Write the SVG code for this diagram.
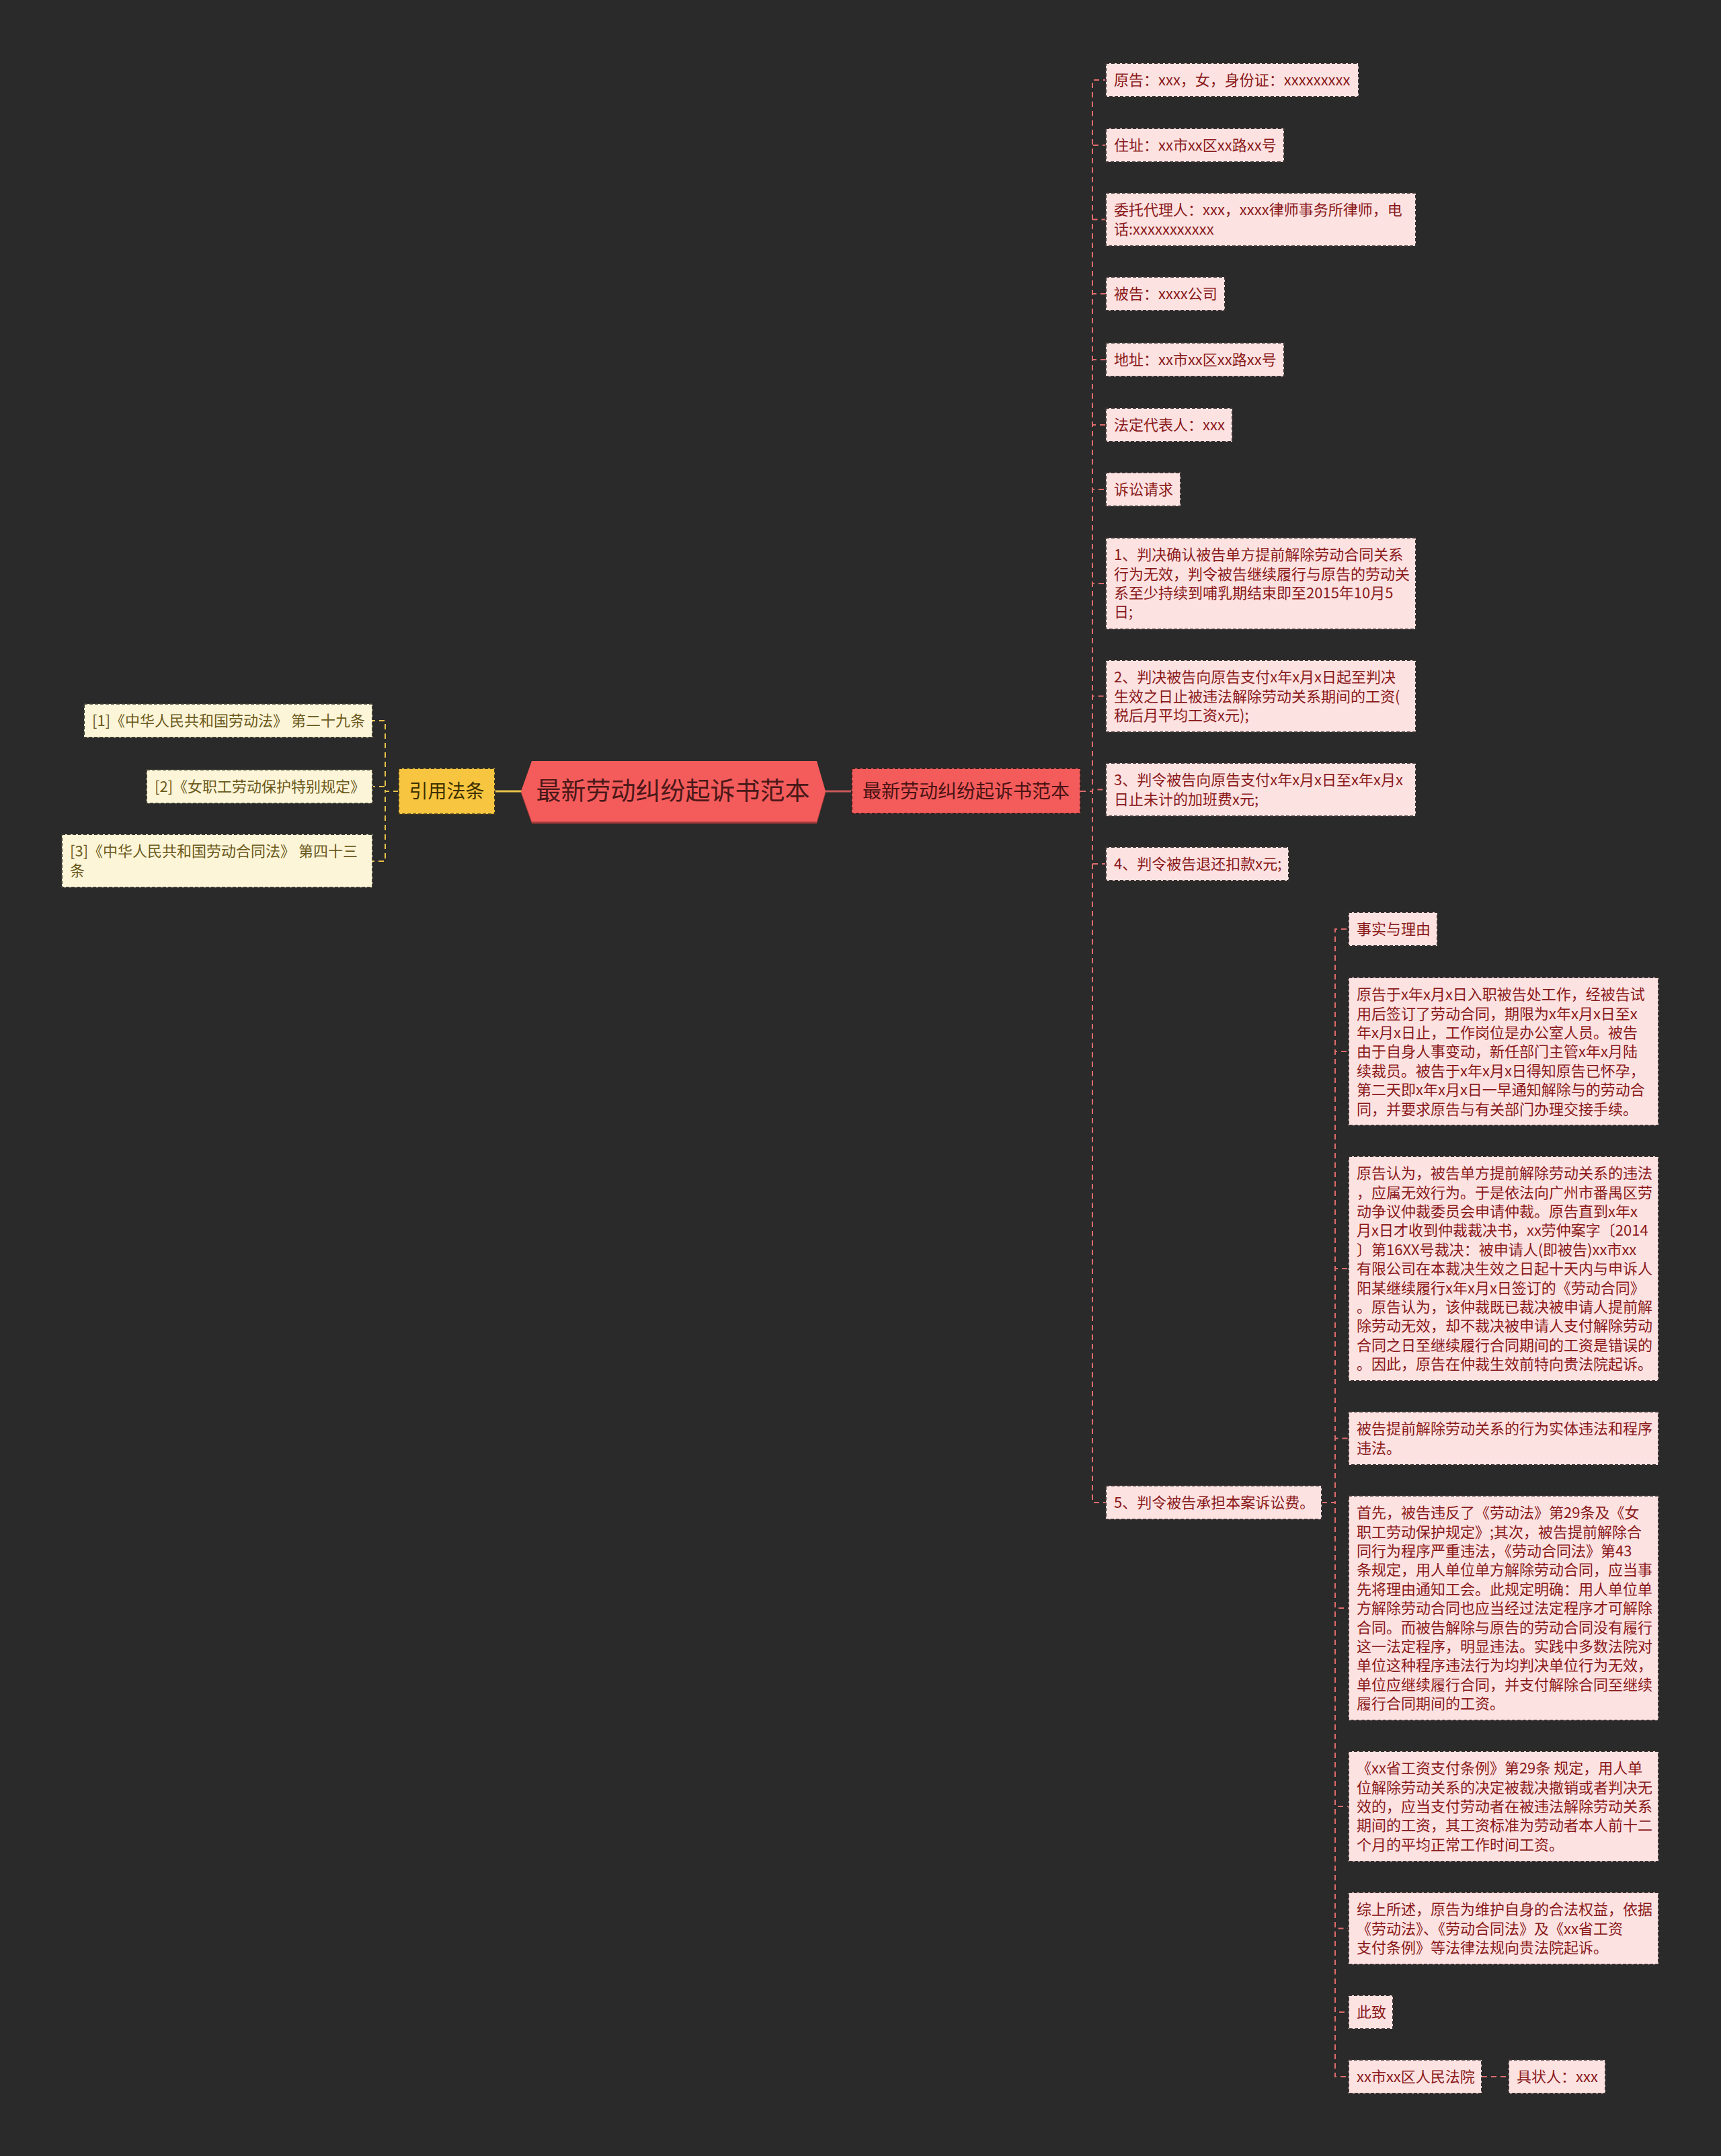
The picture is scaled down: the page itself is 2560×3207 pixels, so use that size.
<svg xmlns="http://www.w3.org/2000/svg" width="2560" height="3207" viewBox="0 0 2560 3207">
<style>
text{font-family:"Noto Sans CJK SC","Noto Sans",sans-serif;white-space:pre}
.bg{fill:#2a2a2a}
.pk rect{fill:#fde2e2;stroke:#3a3030;stroke-width:2;stroke-dasharray:5 3}
.pk text{fill:#8a1a1a;font-size:22px}
.cm rect{fill:#fdf5d8;stroke:#3a3a30;stroke-width:2;stroke-dasharray:5 3}
.cm text{fill:#6b5a1c;font-size:22px}
.cr{fill:none;stroke:#e06c6c;stroke-width:2;stroke-dasharray:8 6}
.cy{fill:none;stroke:#e8c24a;stroke-width:2;stroke-dasharray:8 6}
</style>
<rect class="bg" x="0" y="0" width="2560" height="3207"/>
<g id="connectors">
<line x1="736" y1="1177" x2="777" y2="1177" stroke="#e8c24a" stroke-width="3"/>
<line x1="1227" y1="1177" x2="1267" y2="1177" stroke="#c85858" stroke-width="3"/>
<path class="cy" d="M593,1177H573V1072H554"/>
<path class="cy" d="M593,1177H573V1170H554"/>
<path class="cy" d="M593,1177H573V1281H554"/>
<path class="cr" d="M1607,1177H1625V119H1645"/>
<path class="cr" d="M1607,1177H1625V216H1645"/>
<path class="cr" d="M1607,1177H1625V326.5H1645"/>
<path class="cr" d="M1607,1177H1625V437H1645"/>
<path class="cr" d="M1607,1177H1625V535H1645"/>
<path class="cr" d="M1607,1177H1625V632H1645"/>
<path class="cr" d="M1607,1177H1625V728H1645"/>
<path class="cr" d="M1607,1177H1625V868H1645"/>
<path class="cr" d="M1607,1177H1625V1035.5H1645"/>
<path class="cr" d="M1607,1177H1625V1174.5H1645"/>
<path class="cr" d="M1607,1177H1625V1285H1645"/>
<path class="cr" d="M1607,1177H1625V2235H1645"/>
<path class="cr" d="M1966,2235H1986V1382H2006"/>
<path class="cr" d="M1966,2235H1986V1564H2006"/>
<path class="cr" d="M1966,2235H1986V1887H2006"/>
<path class="cr" d="M1966,2235H1986V2139.5H2006"/>
<path class="cr" d="M1966,2235H1986V2392H2006"/>
<path class="cr" d="M1966,2235H1986V2687H2006"/>
<path class="cr" d="M1966,2235H1986V2868.5H2006"/>
<path class="cr" d="M1966,2235H1986V2993H2006"/>
<path class="cr" d="M1966,2235H1986V3089H2006"/>
<path class="cr" d="M2204,3089H2244"/>
</g>
<g id="root">
<polygon points="775,1180 791,1135 1215,1135 1228,1180 1215,1225 791,1225" fill="#a83c3c"/>
<polygon points="775,1177 791,1132 1215,1132 1228,1177 1215,1222 791,1222" fill="#f45b5b"/>
<text x="1001" y="1190" font-size="37" fill="#4a1818" text-anchor="middle">最新劳动纠纷起诉书范本</text>
</g>
<g id="cite">
<rect x="593" y="1143" width="143" height="68" fill="#f7c53f" stroke="#3a3420" stroke-width="2" stroke-dasharray="5 3"/>
<text x="664.5" y="1187" font-size="28" fill="#3d3000" text-anchor="middle">引用法条</text>
</g>
<g id="cite1" class="cm"><rect x="125" y="1047" width="429" height="50"/><text x="137" y="1080.2">[1]《中华人民共和国劳动法》 第二十九条</text></g>
<g id="cite2" class="cm"><rect x="218" y="1145" width="336" height="50"/><text x="230" y="1178.2">[2]《女职工劳动保护特别规定》</text></g>
<g id="cite3" class="cm"><rect x="92" y="1241" width="462" height="79"/><text x="104" y="1274.2">[3]《中华人民共和国劳动合同法》 第四十三</text><text x="104" y="1302.6">条</text></g>
<g id="main">
<rect x="1267" y="1143" width="340" height="67" fill="#f45b5b" stroke="#3a2020" stroke-width="2" stroke-dasharray="5 3"/>
<text x="1437" y="1187" font-size="28" fill="#4a1414" text-anchor="middle">最新劳动纠纷起诉书范本</text>
</g>
<g id="n1" class="pk"><rect x="1645" y="94" width="376" height="50"/><text x="1657" y="127.2">原告：xxx，女，身份证：xxxxxxxxx</text></g>
<g id="n2" class="pk"><rect x="1645" y="191" width="265" height="50"/><text x="1657" y="224.2">住址：xx市xx区xx路xx号</text></g>
<g id="n3" class="pk"><rect x="1645" y="287" width="461" height="79"/><text x="1657" y="320.2">委托代理人：xxx，xxxx律师事务所律师，电</text><text x="1657" y="348.6">话:xxxxxxxxxxx</text></g>
<g id="n4" class="pk"><rect x="1645" y="412" width="177" height="50"/><text x="1657" y="445.2">被告：xxxx公司</text></g>
<g id="n5" class="pk"><rect x="1645" y="510" width="265" height="50"/><text x="1657" y="543.2">地址：xx市xx区xx路xx号</text></g>
<g id="n6" class="pk"><rect x="1645" y="607" width="188" height="50"/><text x="1657" y="640.2">法定代表人：xxx</text></g>
<g id="n7" class="pk"><rect x="1645" y="703" width="111" height="50"/><text x="1657" y="736.2">诉讼请求</text></g>
<g id="n8" class="pk"><rect x="1645" y="800" width="461" height="136"/><text x="1657" y="833.2">1、判决确认被告单方提前解除劳动合同关系</text><text x="1657" y="861.6">行为无效，判令被告继续履行与原告的劳动关</text><text x="1657" y="890">系至少持续到哺乳期结束即至2015年10月5</text><text x="1657" y="918.4">日;</text></g>
<g id="n9" class="pk"><rect x="1645" y="982" width="461" height="107"/><text x="1657" y="1015.2">2、判决被告向原告支付x年x月x日起至判决</text><text x="1657" y="1043.6">生效之日止被违法解除劳动关系期间的工资(</text><text x="1657" y="1072">税后月平均工资x元);</text></g>
<g id="n10" class="pk"><rect x="1645" y="1135" width="461" height="79"/><text x="1657" y="1168.2">3、判令被告向原告支付x年x月x日至x年x月x</text><text x="1657" y="1196.6">日止未计的加班费x元;</text></g>
<g id="n11" class="pk"><rect x="1645" y="1260" width="272" height="50"/><text x="1657" y="1293.2">4、判令被告退还扣款x元;</text></g>
<g id="n12" class="pk"><rect x="1645" y="2210" width="321" height="50"/><text x="1657" y="2243.2">5、判令被告承担本案诉讼费。</text></g>
<g id="m1" class="pk"><rect x="2006" y="1357" width="132" height="50"/><text x="2018" y="1390.2">事实与理由</text></g>
<g id="m2" class="pk"><rect x="2006" y="1454" width="461" height="220"/>
<text x="2018" y="1487.2">原告于x年x月x日入职被告处工作，经被告试</text>
<text x="2018" y="1515.6">用后签订了劳动合同，期限为x年x月x日至x</text>
<text x="2018" y="1544">年x月x日止，工作岗位是办公室人员。被告</text>
<text x="2018" y="1572.4">由于自身人事变动，新任部门主管x年x月陆</text>
<text x="2018" y="1600.8">续裁员。被告于x年x月x日得知原告已怀孕，</text>
<text x="2018" y="1629.2">第二天即x年x月x日一早通知解除与的劳动合</text>
<text x="2018" y="1657.6">同，并要求原告与有关部门办理交接手续。</text></g>
<g id="m3" class="pk"><rect x="2006" y="1720" width="461" height="334"/>
<text x="2018" y="1753.2">原告认为，被告单方提前解除劳动关系的违法</text>
<text x="2018" y="1781.6">，应属无效行为。于是依法向广州市番禺区劳</text>
<text x="2018" y="1810">动争议仲裁委员会申请仲裁。原告直到x年x</text>
<text x="2018" y="1838.4">月x日才收到仲裁裁决书，xx劳仲案字〔2014</text>
<text x="2018" y="1866.8">〕第16XX号裁决：被申请人(即被告)xx市xx</text>
<text x="2018" y="1895.2">有限公司在本裁决生效之日起十天内与申诉人</text>
<text x="2018" y="1923.6">阳某继续履行x年x月x日签订的《劳动合同》</text>
<text x="2018" y="1952">。原告认为，该仲裁既已裁决被申请人提前解</text>
<text x="2018" y="1980.4">除劳动无效，却不裁决被申请人支付解除劳动</text>
<text x="2018" y="2008.8">合同之日至继续履行合同期间的工资是错误的</text>
<text x="2018" y="2037.2">。因此，原告在仲裁生效前特向贵法院起诉。</text></g>
<g id="m4" class="pk"><rect x="2006" y="2100" width="461" height="79"/><text x="2018" y="2133.2">被告提前解除劳动关系的行为实体违法和程序</text><text x="2018" y="2161.6">违法。</text></g>
<g id="m5" class="pk"><rect x="2006" y="2225" width="461" height="334"/>
<text x="2018" y="2258.2">首先，被告违反了《劳动法》第29条及《女</text>
<text x="2018" y="2286.6">职工劳动保护规定》;其次，被告提前解除合</text>
<text x="2018" y="2315">同行为程序严重违法，《劳动合同法》第43</text>
<text x="2018" y="2343.4">条规定，用人单位单方解除劳动合同，应当事</text>
<text x="2018" y="2371.8">先将理由通知工会。此规定明确：用人单位单</text>
<text x="2018" y="2400.2">方解除劳动合同也应当经过法定程序才可解除</text>
<text x="2018" y="2428.6">合同。而被告解除与原告的劳动合同没有履行</text>
<text x="2018" y="2457">这一法定程序，明显违法。实践中多数法院对</text>
<text x="2018" y="2485.4">单位这种程序违法行为均判决单位行为无效，</text>
<text x="2018" y="2513.8">单位应继续履行合同，并支付解除合同至继续</text>
<text x="2018" y="2542.2">履行合同期间的工资。</text></g>
<g id="m6" class="pk"><rect x="2006" y="2605" width="461" height="164"/>
<text x="2018" y="2638.2">《xx省工资支付条例》第29条 规定，用人单</text>
<text x="2018" y="2666.6">位解除劳动关系的决定被裁决撤销或者判决无</text>
<text x="2018" y="2695">效的，应当支付劳动者在被违法解除劳动关系</text>
<text x="2018" y="2723.4">期间的工资，其工资标准为劳动者本人前十二</text>
<text x="2018" y="2751.8">个月的平均正常工作时间工资。</text></g>
<g id="m7" class="pk"><rect x="2006" y="2815" width="461" height="107"/>
<text x="2018" y="2848.2">综上所述，原告为维护自身的合法权益，依据</text>
<text x="2018" y="2876.6">《劳动法》、《劳动合同法》及《xx省工资</text>
<text x="2018" y="2905">支付条例》等法律法规向贵法院起诉。</text></g>
<g id="m8" class="pk"><rect x="2006" y="2968" width="66" height="50"/><text x="2018" y="3001.2">此致</text></g>
<g id="m9" class="pk"><rect x="2006" y="3064" width="198" height="50"/><text x="2018" y="3097.2">xx市xx区人民法院</text></g>
<g id="m10" class="pk"><rect x="2244" y="3064" width="144" height="50"/><text x="2256" y="3097.2">具状人：xxx</text></g>
</svg>
